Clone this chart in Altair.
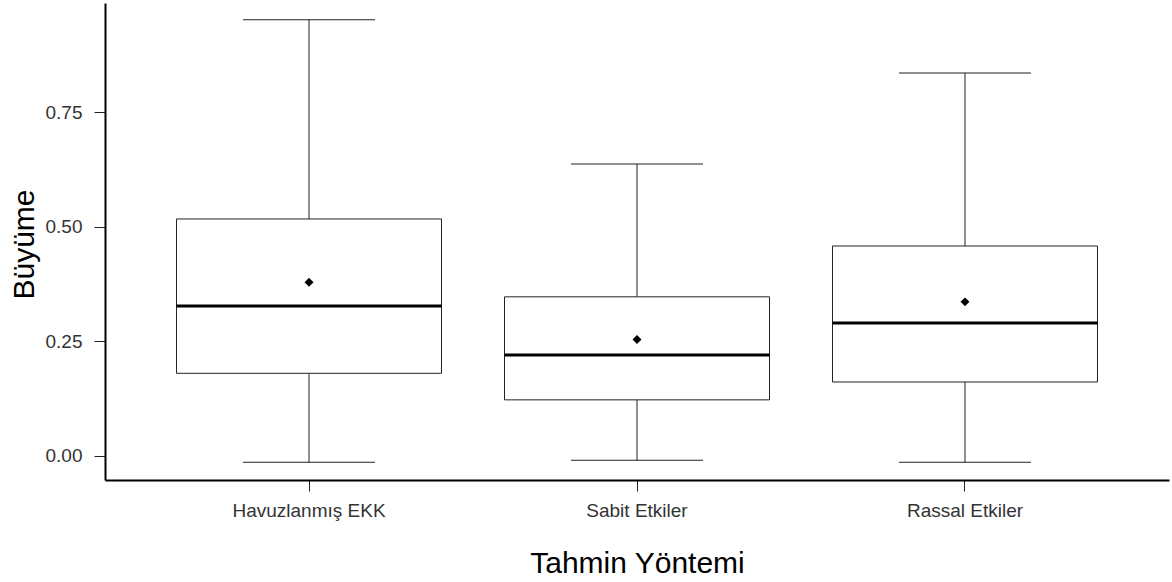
import altair as alt
import pandas as pd

methods = ["Havuzlanmış EKK", "Sabit Etkiler", "Rassal Etkiler"]
lower_whisker = [-0.014, -0.010, -0.014]
q1 = [0.180, 0.122, 0.161]
median = [0.327, 0.220, 0.290]
q3 = [0.517, 0.347, 0.458]
upper_whisker = [0.952, 0.637, 0.836]
mean = [0.379, 0.254, 0.336]
y_ticks = [0.0, 0.25, 0.5, 0.75]

df = pd.DataFrame({
    "method": methods,
    "lo": lower_whisker,
    "q1": q1,
    "med": median,
    "q3": q3,
    "hi": upper_whisker,
    "mean": mean,
})

FONT = "Liberation Sans"
LINE = "#222222"

x_enc = alt.X(
    "method:N",
    sort=methods,
    title="Tahmin Yöntemi",
    scale=alt.Scale(paddingInner=0, paddingOuter=0.122),
    axis=alt.Axis(
        labelAngle=0,
        labelFontSize=19,
        labelColor="#333333",
        labelPadding=10,
        tickSize=11,
        tickColor=LINE,
        tickWidth=1,
        domainColor="black",
        domainWidth=2,
        titleFontSize=30,
        titleFontWeight="normal",
        titleColor="black",
        titleBaseline="alphabetic",
        titleY=92,
        grid=False,
    ),
)

y_scale = alt.Scale(domain=[-0.053, 0.9886], nice=False, zero=False)
y_axis = alt.Axis(
    values=y_ticks,
    format=".2f",
    labelFontSize=19,
    labelColor="#333333",
    labelPadding=12,
    tickSize=11,
    tickColor=LINE,
    tickWidth=1,
    domainColor="black",
    domainWidth=2,
    titleFontSize=30,
    titleFontWeight="normal",
    titleColor="black",
    titleBaseline="alphabetic",
    titleAngle=270,
    titleAlign="center",
    titleX=-72,
    titleY=241,
    grid=False,
)

base = alt.Chart(df)

whisker_low = base.mark_rule(color=LINE, strokeWidth=1).encode(
    x=x_enc,
    y=alt.Y("lo:Q", scale=y_scale, axis=y_axis, title="Büyüme"),
    y2="q1:Q",
)
whisker_high = base.mark_rule(color=LINE, strokeWidth=1).encode(
    x=x_enc,
    y=alt.Y("q3:Q", scale=y_scale, axis=y_axis, title="Büyüme"),
    y2="hi:Q",
)
box = base.mark_bar(width=265, fill="white", stroke=LINE, strokeWidth=1).encode(
    x=x_enc,
    y=alt.Y("q1:Q", scale=y_scale, axis=y_axis, title="Büyüme"),
    y2="q3:Q",
)
med = base.mark_tick(size=265, thickness=3, color="black", opacity=1).encode(
    x=x_enc,
    y=alt.Y("med:Q", scale=y_scale, axis=y_axis, title="Büyüme"),
)
cap_low = base.mark_tick(size=132, thickness=1, color=LINE, opacity=1).encode(
    x=x_enc,
    y=alt.Y("lo:Q", scale=y_scale, axis=y_axis, title="Büyüme"),
)
cap_high = base.mark_tick(size=132, thickness=1, color=LINE, opacity=1).encode(
    x=x_enc,
    y=alt.Y("hi:Q", scale=y_scale, axis=y_axis, title="Büyüme"),
)
mean_pt = base.mark_point(shape="diamond", size=80, filled=True, color="black", opacity=1).encode(
    x=x_enc,
    y=alt.Y("mean:Q", scale=y_scale, axis=y_axis, title="Büyüme"),
)

chart = (
    alt.layer(whisker_low, whisker_high, box, med, cap_low, cap_high, mean_pt)
    .properties(
        width=1064,
        height=477,
        autosize=alt.AutoSizeParams(type="none"),
        padding={"left": 105, "top": 3, "right": 3, "bottom": 102},
    )
    .configure(font=FONT)
    .configure_view(stroke=None)
    .configure_axis(labelFont=FONT, titleFont=FONT)
)

chart.save("out.html", embed_options={"renderer": "svg", "actions": False})
